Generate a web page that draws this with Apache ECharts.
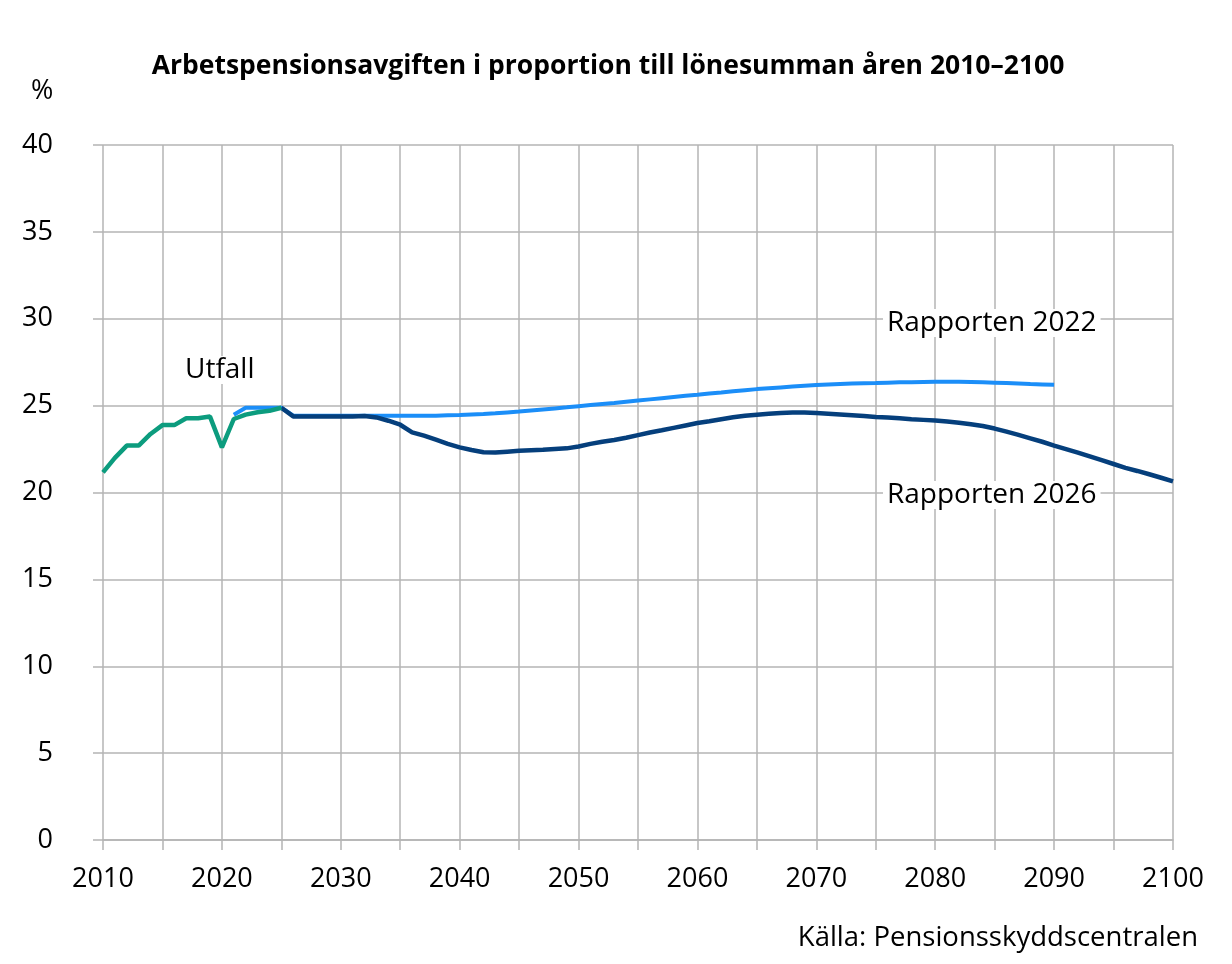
<!DOCTYPE html>
<html>
<head>
<meta charset="utf-8">
<script src="https://cdn.jsdelivr.net/npm/echarts@6/dist/echarts.min.js"></script>
<style>html,body{margin:0;padding:0;background:#fff;}#c{width:1232px;height:964px;}</style>
</head>
<body>
<div id="c"></div>
<script>
// Utfall 2010–2025
const utfallStart = 2010;
const utfall = [21.16, 21.99, 22.7, 22.7, 23.37, 23.88, 23.88, 24.27, 24.27, 24.37, 22.6, 24.23, 24.48, 24.62, 24.7, 24.88];
// Rapporten 2022: 2021–2090
const r2022Start = 2021;
const r2022 = [24.48, 24.88, 24.88, 24.88, 24.88,
  24.42, 24.42, 24.42, 24.42, 24.42, 24.42, 24.42, 24.42, 24.42, 24.42, 24.42, 24.42, 24.42,
  24.44, 24.46, 24.49, 24.52, 24.56, 24.61, 24.66, 24.72, 24.78, 24.84, 24.9, 24.97,
  25.03, 25.09, 25.15, 25.22, 25.29, 25.36, 25.43, 25.5, 25.57, 25.63,
  25.7, 25.76, 25.83, 25.89, 25.95, 26.0, 26.05, 26.1, 26.15, 26.19,
  26.22, 26.25, 26.27, 26.29, 26.3, 26.32, 26.34, 26.35, 26.36, 26.37,
  26.37, 26.37, 26.36, 26.34, 26.32, 26.3, 26.27, 26.24, 26.22, 26.2];
// Rapporten 2026: 2025–2100
const r2026Start = 2025;
const r2026 = [24.88, 24.38, 24.38, 24.38, 24.38, 24.38, 24.38, 24.4, 24.32, 24.13, 23.9,
  23.46, 23.27, 23.04, 22.8, 22.6, 22.45, 22.32, 22.3, 22.35, 22.4,
  22.43, 22.46, 22.5, 22.54, 22.65, 22.8, 22.92, 23.02, 23.15, 23.3,
  23.45, 23.58, 23.72, 23.86, 24.0, 24.1, 24.22, 24.33, 24.42, 24.48,
  24.53, 24.58, 24.61, 24.6, 24.57, 24.53, 24.49, 24.45, 24.4, 24.35,
  24.31, 24.27, 24.22, 24.18, 24.14, 24.08, 24.02, 23.93, 23.83, 23.68,
  23.5, 23.32, 23.12, 22.92, 22.7, 22.5, 22.3, 22.08, 21.86, 21.64,
  21.42, 21.24, 21.05, 20.85, 20.64];
const yTicks = [0, 5, 10, 15, 20, 25, 30, 35, 40];
const xLabelYears = [2010, 2020, 2030, 2040, 2050, 2060, 2070, 2080, 2090, 2100];

const pairs = (start, arr) => arr.map((v, i) => [start + i, v]);
const FONT = '"Open Sans", "Noto Sans", sans-serif';
const GRID = '#b4b4b4';

const chart = echarts.init(document.getElementById('c'), null, {renderer: 'canvas'});
chart.setOption({
  backgroundColor: '#fff',
  animation: false,
  title: {
    text: 'Arbetspensionsavgiften i proportion till lönesumman åren 2010–2100',
    left: 603, top: 48, textAlign: 'center',
    textStyle: {fontFamily: FONT, fontSize: 26.5, fontWeight: 'bold', color: '#000'}
  },
  grid: {left: 103, right: 59, top: 145, bottom: 124, containLabel: false},
  xAxis: {
    type: 'value', min: 2010, max: 2100, interval: 5,
    axisLine: {show: true, lineStyle: {color: GRID, width: 1.5}},
    axisTick: {show: true, length: 10, lineStyle: {color: GRID, width: 1.5}},
    splitLine: {show: true, lineStyle: {color: GRID, width: 1.5}},
    axisLabel: {
      margin: 26, fontFamily: FONT, fontSize: 27, color: '#000',
      formatter: v => xLabelYears.indexOf(v) >= 0 ? String(v) : ''
    }
  },
  yAxis: {
    type: 'value', min: 0, max: 40, interval: 5,
    axisLine: {show: false},
    axisTick: {show: true, length: 10, lineStyle: {color: GRID, width: 1.5}},
    splitLine: {show: true, lineStyle: {color: GRID, width: 1.5}},
    axisLabel: {
      margin: 50, fontFamily: FONT, fontSize: 27, color: '#000',
      formatter: v => yTicks.indexOf(v) >= 0 ? String(v) : ''
    }
  },
  series: [
    {name: 'Rapporten 2022', type: 'line', data: pairs(r2022Start, r2022), showSymbol: false,
     lineStyle: {color: '#1b8ef8', width: 4}, z: 2},
    {name: 'Rapporten 2026', type: 'line', data: pairs(r2026Start, r2026), showSymbol: false,
     lineStyle: {color: '#053f7c', width: 4.5}, z: 3},
    {name: 'Utfall', type: 'line', data: pairs(utfallStart, utfall), showSymbol: false,
     lineStyle: {color: '#0c9c7e', width: 4.5}, z: 4}
  ],
  graphic: [
    {type: 'text', left: 31, top: 78, z: 10,
     style: {text: '%', font: '27px ' + FONT, fill: '#000'}},
    {type: 'text', left: 183, top: 356, z: 10,
     style: {text: 'Utfall', font: '28px ' + FONT, fill: '#000', backgroundColor: '#fff', padding: [0, 2]}},
    {type: 'text', left: 883, top: 309, z: 10,
     style: {text: 'Rapporten 2022', font: '28px ' + FONT, fill: '#000', backgroundColor: '#fff', padding: [0, 4]}},
    {type: 'text', left: 883, top: 481, z: 10,
     style: {text: 'Rapporten 2026', font: '28px ' + FONT, fill: '#000', backgroundColor: '#fff', padding: [0, 4]}},
    {type: 'text', right: 34, top: 924, z: 10,
     style: {text: 'Källa: Pensionsskyddscentralen', font: '27.5px ' + FONT, fill: '#000'}}
  ]
});
</script>
</body>
</html>
